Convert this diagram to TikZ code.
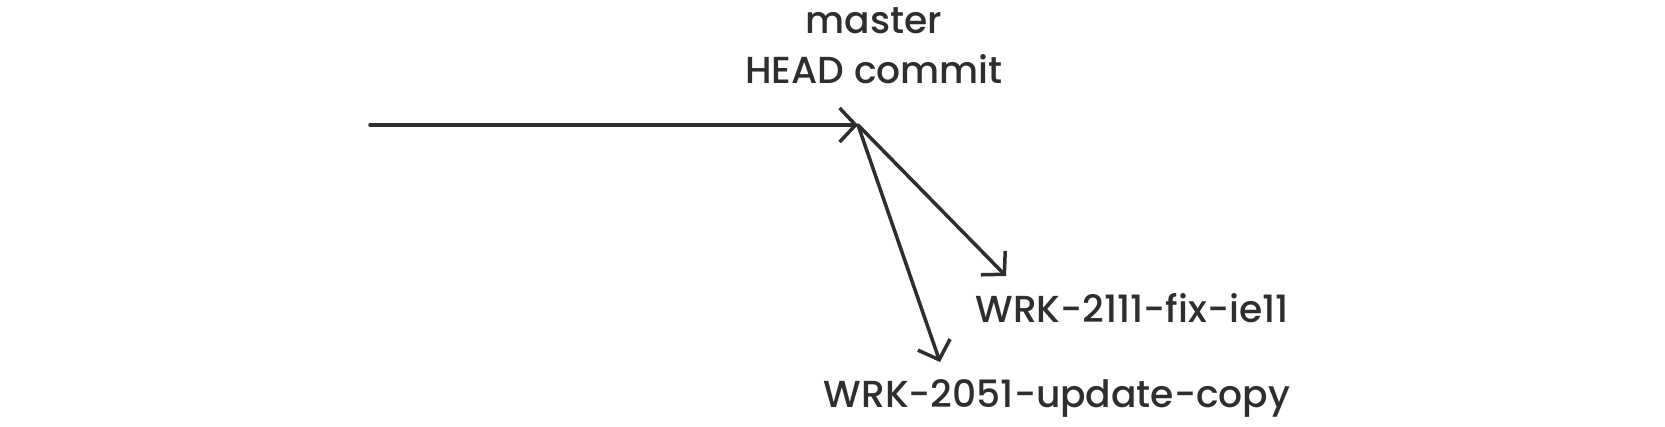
\documentclass[tikz,border=0pt]{standalone}
\usepackage{fontspec}
\setmainfont{Poppins}
\newfontfamily\lblfont{Poppins}[UprightFont=* Medium]
\usetikzlibrary{arrows.meta}
\definecolor{ink}{HTML}{2E2E2E}
\tikzset{
  conn/.style={draw=ink, line width=0.035cm, line cap=round,
    -{Straight Barb[length=0.16cm, width=0.34cm, line width=0.035cm]}},
  lbl/.style={text=ink, inner sep=0pt, anchor=base, font=\lblfont\fontsize{10.7}{13}\selectfont}
}
\begin{document}
\begin{tikzpicture}[x=0.01cm, y=-0.01cm]
\useasboundingbox (0,0) rectangle (1665,426);
\fill[white] (0,0) rectangle (1665,426);
\node[lbl] (master) at (874,33) {master};
\node[lbl] (headc) at (874,83) {HEAD commit};
\node[lbl] (fix) at (1132,322) {WRK-2111-fix-ie11};
\node[lbl] (upd) at (1057,407) {WRK-2051-update-copy};
\coordinate (start) at (370,125);
\coordinate (head) at (858,125);
\coordinate (fixend) at (1006,276);
\coordinate (updend) at (940,362);
\draw[conn] (start) -- (head);
\draw[conn] (head) -- (fixend);
\draw[conn] (head) -- (updend);
\end{tikzpicture}
\end{document}
